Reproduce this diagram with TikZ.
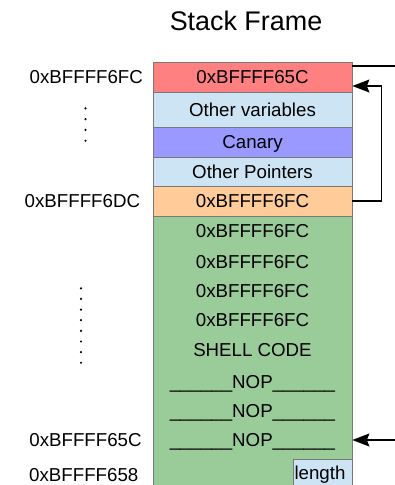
\documentclass[tikz,border=0pt]{standalone}
\usepackage{fontspec}
\setmainfont{Liberation Sans}
\usetikzlibrary{arrows.meta}

\definecolor{cellborder}{RGB}{120,120,120}
\definecolor{retred}{RGB}{255,128,128}
\definecolor{varblue}{RGB}{204,228,243}
\definecolor{canary}{RGB}{153,153,255}
\definecolor{ebporange}{RGB}{255,204,153}
\definecolor{bufgreen}{RGB}{153,204,153}

\tikzset{
  txt/.style={inner sep=0pt, font=\fontsize{18.7}{20}\selectfont,
              text height=13.4pt, text depth=0pt},
  cell/.style={txt, draw=cellborder, line width=0.8pt, minimum width=199pt},
  link/.style={line width=1.2pt, draw=black},
  tip/.style={-{Stealth[length=17pt,width=13pt,inset=2.5pt]}},
  dotmark/.style={fill=black}
}

\begin{document}
\begin{tikzpicture}[x=1pt,y=-1pt]
\useasboundingbox (0,0) rectangle (395,485);

% title
\node[inner sep=0pt, font=\fontsize{26.9}{28}\selectfont, text height=19.2pt, text depth=0pt]
  (title) at (246,21.2) {Stack Frame};

% buffer region and its length marker
\node[cell, fill=bufgreen, minimum height=272pt] (buf) at (252.5,352) {};
\node[txt, draw=cellborder, line width=0.8pt, fill=varblue,
      minimum width=59pt, minimum height=29pt] (len) at (322.5,473.5) {};
\node[txt] (lenlbl) at (320,473) {length};

% frame cells
\node[cell, fill=retred,    minimum height=30pt] (ret)   at (252.5,77)    {0xBFFFF65C};
\node[cell, fill=varblue,   minimum height=35pt] (vars)  at (252.5,109.5) {Other variables};
\node[cell, fill=canary,    minimum height=30pt] (can)   at (252.5,142)   {Canary};
\node[cell, fill=varblue,   minimum height=29pt] (ptrs)  at (252.5,171.5) {Other Pointers};
\node[cell, fill=ebporange, minimum height=30pt] (ebp)   at (252.5,201)   {0xBFFFF6FC};

% buffer contents
\node[txt] (b1) at (252.5,230.3) {0xBFFFF6FC};
\node[txt] (b2) at (252.5,262)   {0xBFFFF6FC};
\node[txt] (b3) at (252.5,291)   {0xBFFFF6FC};
\node[txt] (b4) at (252.5,320)   {0xBFFFF6FC};
\node[txt] (sc) at (252.5,350)   {SHELL CODE};
\node[txt] (n1) at (252.5,381.5) {\_\_\_\_\_\_NOP\_\_\_\_\_\_};
\node[txt] (n2) at (252.5,410.7) {\_\_\_\_\_\_NOP\_\_\_\_\_\_};
\node[txt] (n3) at (252.5,440)   {\_\_\_\_\_\_NOP\_\_\_\_\_\_};

% addresses on the left
\node[txt] (a1) at (86.3,77.2)  {0xBFFFF6FC};
\node[txt] (a2) at (82.4,201)   {0xBFFFF6DC};
\node[txt] (a3) at (85.5,439.8) {0xBFFFF65C};
\node[txt] (a4) at (83.8,475)   {0xBFFFF658};

% vertical ellipses
\foreach \k in {0,...,3} \fill[dotmark] (85.5,108.3+10.8*\k) circle (1.2pt);
\foreach \k in {0,...,7} \fill[dotmark] (81,288.3+10.63*\k) circle (1.2pt);

% pointers
\coordinate (retout) at (396,66);
\draw[link] (ret.east |- retout) -- (retout);

\coordinate (ebphook) at (381.5,201);
\coordinate (retin) at (ret.east |- 0,86);
\draw[link, tip] (ebp.east) -- (ebphook) -- (ebphook |- retin) -- (retin);

\coordinate (nopin) at (396,440);
\draw[link, tip] (nopin) -- (buf.east |- nopin);
\end{tikzpicture}
\end{document}
